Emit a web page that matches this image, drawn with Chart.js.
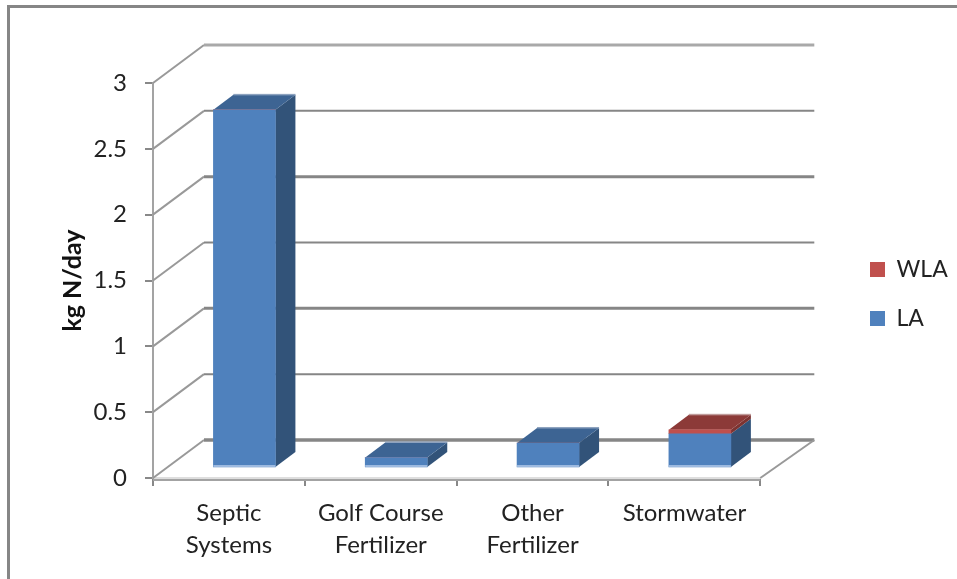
<!DOCTYPE html>
<html lang="en">
<head>
    <meta charset="UTF-8">
    <title>kg N/day by source</title>
    <script src="https://cdn.jsdelivr.net/npm/chart.js"></script>
    <style>
        html, body { margin: 0; background: #fff; overflow: hidden; }
        #frame { position: absolute; left: 7px; top: 5px; right: 0; bottom: 0; border-top: 3px solid #868686; border-left: 3px solid #868686; }
        #resultChart { position: absolute; left: 0; top: 0; }
    </style>
</head>
<body>
    <div id="frame"></div>
    <canvas id="resultChart" width="957" height="579"></canvas>

    <script>
        const categories = [["Septic", "Systems"], ["Golf Course", "Fertilizer"], ["Other", "Fertilizer"], ["Stormwater"]];
        const laValues = [2.72, 0.08, 0.19, 0.26];
        const wlaValues = [0, 0, 0, 0.03];
        const yTickLabels = ["0", "0.5", "1", "1.5", "2", "2.5", "3"];

        const wallDx = 51, wallDy = -38;      // depth of the back wall
        const wallRightDx = 54;
        const gapDx = 15.5, gapDy = -10;      // bars stand this far behind the front edge
        const barDx = 20, barDy = -15;        // depth of one bar
        const topColors = { LA: "#3d6493", WLA: "#8c3a38" };
        const sideColors = { LA: "#325379", WLA: "#7c3331" };
        const topEdgeColors = { LA: "#8ea3bf", WLA: "#c09c9b" };

        function polygon(ctx, pts, color) {
            ctx.fillStyle = color;
            ctx.beginPath();
            pts.forEach((p, i) => i ? ctx.lineTo(p[0], p[1]) : ctx.moveTo(p[0], p[1]));
            ctx.closePath();
            ctx.fill();
        }

        const wallsAndDepth = {
            id: "wallsAndDepth",
            afterLayout(chart) {
                // legend sits out to the right of the plot, not against it
                const legend = chart.legend;
                legend.left = 844;
                legend.right = 957;
                legend.top = 168;
                legend.bottom = 420;
            },
            beforeDatasetsDraw(chart) {
                const ctx = chart.ctx;
                const area = chart.chartArea;
                const y = chart.scales.y;

                // walls
                y.ticks.forEach(t => {
                    const py = y.getPixelForValue(t.value);
                    ctx.strokeStyle = "#999999";
                    ctx.lineWidth = 2;
                    ctx.beginPath();
                    ctx.moveTo(area.left, py);
                    ctx.lineTo(area.left + wallDx, py + wallDy);
                    ctx.stroke();
                    ctx.strokeStyle = t.value === 3 ? "#a9a9a9" : "#868686";
                    ctx.lineWidth = t.value === 0 ? 3.5 : (Number.isInteger(t.value) ? 3 : 2);
                    ctx.beginPath();
                    ctx.moveTo(area.left + wallDx, py + wallDy);
                    ctx.lineTo(area.right + wallRightDx, py + wallDy);
                    ctx.stroke();
                });
                const floorY = y.getPixelForValue(0);
                ctx.strokeStyle = "#999999";
                ctx.lineWidth = 2;
                ctx.beginPath();
                ctx.moveTo(area.right, floorY);
                ctx.lineTo(area.right + wallRightDx, floorY + wallDy);
                ctx.stroke();

                // darker line just under the light front edge of the floor
                ctx.strokeStyle = "#a3a3a3";
                ctx.beginPath();
                ctx.moveTo(area.left, floorY + 2);
                ctx.lineTo(area.right, floorY + 2);
                ctx.stroke();

                // side and top faces of the bars
                ctx.save();
                ctx.translate(gapDx, gapDy);
                chart.data.datasets.forEach((ds, d) => {
                    chart.getDatasetMeta(d).data.forEach((bar, i) => {
                        if (Math.abs(bar.base - bar.y) < 0.5) return;
                        const xl = bar.x - bar.width / 2;
                        const xr = bar.x + bar.width / 2;
                        polygon(ctx, [[xr, bar.y], [xr + barDx, bar.y + barDy], [xr + barDx, bar.base + barDy], [xr, bar.base]], sideColors[ds.label]);
                        const covered = chart.data.datasets.slice(d + 1).some(o => o.data[i] > 0);
                        if (!covered) {
                            polygon(ctx, [[xl, bar.y], [xl + barDx, bar.y + barDy], [xr + barDx, bar.y + barDy], [xr, bar.y]], topColors[ds.label]);
                            ctx.fillStyle = topEdgeColors[ds.label];
                            ctx.fillRect(xl + barDx, bar.y + barDy - 1, bar.width, 1.5);
                        }
                    });
                });
                ctx.restore();

                ctx.save();
                ctx.translate(gapDx, gapDy);
            },
            afterDatasetsDraw(chart) {
                const ctx = chart.ctx;
                // light strip along the foot of each bar
                chart.getDatasetMeta(0).data.forEach(bar => {
                    ctx.fillStyle = "#9dbae0";
                    ctx.fillRect(bar.x - bar.width / 2, bar.base - 2, bar.width, 2);
                });
                ctx.restore();
            }
        };

        const ctx = document.getElementById("resultChart").getContext("2d");
        new Chart(ctx, {
            type: "bar",
            data: {
                labels: categories,
                datasets: [
                    { label: "LA", data: laValues, backgroundColor: "#4f81bd", barThickness: 62, clip: false },
                    { label: "WLA", data: wlaValues, backgroundColor: "#c0504d", barThickness: 62, clip: false }
                ]
            },
            options: {
                responsive: false,
                animation: false,
                layout: { padding: { left: 58, top: 83, right: 83, bottom: 0 } },
                scales: {
                    x: {
                        stacked: true,
                        afterFit: s => { s.height = 101; },
                        border: { color: "#dedede", width: 2 },
                        grid: { offset: true, drawOnChartArea: false, tickLength: 8, color: "#888888", lineWidth: 2 },
                        ticks: { color: "#222222", font: { family: "Lato", size: 24, lineHeight: 1.33 }, padding: 11, maxRotation: 0, autoSkip: false }
                    },
                    y: {
                        stacked: true,
                        min: 0,
                        max: 3,
                        afterFit: s => { s.width = 95; },
                        border: { color: "#a3a3a3", width: 2 },
                        grid: { drawOnChartArea: false, tickLength: 8, color: "#888888", lineWidth: 2 },
                        ticks: {
                            stepSize: 0.5,
                            color: "#222222",
                            font: { family: "Lato", size: 24 },
                            padding: 18,
                            callback: (v, i) => yTickLabels[i]
                        },
                        title: { display: true, text: "kg N/day", color: "#111111", font: { family: "Lato", size: 25, weight: "bold" }, padding: 0 }
                    }
                },
                plugins: {
                    tooltip: { enabled: false },
                    legend: {
                        position: "right",
                        reverse: true,
                        labels: {
                            color: "#222222",
                            font: { family: "Lato", size: 23 },
                            boxWidth: 15,
                            boxHeight: 15,
                            padding: 26
                        }
                    }
                }
            },
            plugins: [wallsAndDepth]
        });
    </script>
</body>
</html>
